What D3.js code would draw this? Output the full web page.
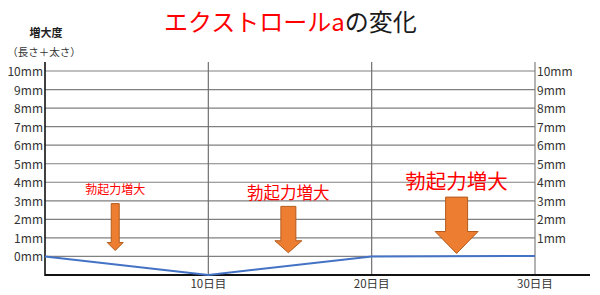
<!DOCTYPE html>
<html lang="ja">
<head>
  <meta charset="UTF-8">
  <title>エクストロールaの変化</title>
  <script src="https://d3js.org/d3.v7.min.js"></script>
  <style>
    body { margin: 0; background: #fff; }
    text { font-family: "Noto Sans CJK JP", "Noto Sans", sans-serif; }
  </style>
</head>
<body>
  <div class="canvas"></div>
  <script>
    // データ
    const days = [0, 10, 20, 30];
    const growth = [0, -1, 0, 0.03];          // 増大度 (mm)
    const mmTicks = [0, 1, 2, 3, 4, 5, 6, 7, 8, 9, 10];
    const rightTicks = [1, 2, 3, 4, 5, 6, 7, 8, 9, 10];
    const dayTicks = [10, 20, 30];
    const noteDays = [4.3, 14.9, 25.2];
    const noteLabel = '勃起力増大';

    // 矢印の見た目 (px / mm)
    const arrowStyle = [
      { font: 12, labelY: 190, top: 2.85, tip: 0.32, shaft: 8, head: 16, headLen: 8 },
      { font: 16.5, labelY: 193, top: 2.7, tip: 0.2, shaft: 15, head: 27, headLen: 12 },
      { font: 20.5, labelY: 182, top: 3.2, tip: 0.16, shaft: 22, head: 43, headLen: 22 }
    ];

    const svg = d3.select('.canvas')
      .append('svg')
      .attr('width', 600)
      .attr('height', 295);

    const x = d3.scaleLinear().domain([0, 30]).range([45, 535]);
    const y = d3.scaleLinear().domain([-1, 10]).range([275, 71]);
    const gridTop = 62;

    // タイトル
    const title = svg.append('text')
      .attr('x', 164)
      .attr('y', 31)
      .style('font-size', '24px');
    title.append('tspan').attr('fill', '#ff0000').text('エクストロールa');
    title.append('tspan').attr('fill', '#1a1a1a').text('の変化');

    svg.append('text')
      .attr('x', 46).attr('y', 37)
      .attr('text-anchor', 'middle')
      .style('font-size', '11px')
      .style('font-weight', 'bold')
      .attr('fill', '#222')
      .text('増大度');
    svg.append('text')
      .attr('x', 44).attr('y', 56)
      .attr('text-anchor', 'middle')
      .style('font-size', '10.5px')
      .attr('fill', '#333')
      .text('（長さ＋太さ）');

    // 横グリッド
    svg.append('g')
      .selectAll('line')
      .data(mmTicks)
      .enter()
      .append('line')
      .attr('x1', x(0)).attr('x2', x(30))
      .attr('y1', d => y(d)).attr('y2', d => y(d))
      .attr('stroke', '#808080')
      .attr('stroke-width', 1.2);

    // 縦グリッド
    svg.append('g')
      .selectAll('line')
      .data(dayTicks)
      .enter()
      .append('line')
      .attr('x1', d => x(d)).attr('x2', d => x(d))
      .attr('y1', gridTop).attr('y2', y(-1))
      .attr('stroke', d => d === 30 ? '#808080' : '#707070')
      .attr('stroke-width', 1.2);

    // 左軸・下軸
    svg.append('line')
      .attr('x1', x(0)).attr('x2', x(0))
      .attr('y1', gridTop).attr('y2', y(-1) + 1)
      .attr('stroke', '#111').attr('stroke-width', 1.6);
    svg.append('line')
      .attr('x1', x(0)).attr('x2', 590)
      .attr('y1', y(-1)).attr('y2', y(-1))
      .attr('stroke', '#111').attr('stroke-width', 1.8);

    // 目盛りラベル
    svg.append('g')
      .selectAll('text')
      .data(mmTicks)
      .enter()
      .append('text')
      .attr('x', x(0) - 2)
      .attr('y', d => y(d) + 5)
      .attr('text-anchor', 'end')
      .style('font-size', '12px')
      .attr('fill', '#333')
      .text(d => d + 'mm');

    svg.append('g')
      .selectAll('text')
      .data(rightTicks)
      .enter()
      .append('text')
      .attr('x', x(30) + 2)
      .attr('y', d => y(d) + 5)
      .style('font-size', '12px')
      .attr('fill', '#333')
      .text(d => d + 'mm');

    svg.append('g')
      .selectAll('text')
      .data(dayTicks)
      .enter()
      .append('text')
      .attr('x', d => x(d))
      .attr('y', 288)
      .attr('text-anchor', 'middle')
      .style('font-size', '11.5px')
      .attr('fill', '#333')
      .text(d => d + '日目');

    // 折れ線
    const line = d3.line()
      .x((d, i) => x(days[i]))
      .y(d => y(d));
    svg.append('path')
      .datum(growth)
      .attr('d', line)
      .attr('fill', 'none')
      .attr('stroke', '#4472c4')
      .attr('stroke-width', 2);

    // 矢印
    const notes = svg.append('g')
      .selectAll('g')
      .data(noteDays)
      .enter()
      .append('g');

    notes.append('path')
      .attr('d', (d, i) => {
        const s = arrowStyle[i];
        const cx = x(d);
        const t = y(s.top);
        const tip = y(s.tip);
        const hy = tip - s.headLen;
        return d3.line()([
          [cx - s.shaft / 2, t], [cx + s.shaft / 2, t],
          [cx + s.shaft / 2, hy], [cx + s.head / 2, hy],
          [cx, tip],
          [cx - s.head / 2, hy], [cx - s.shaft / 2, hy]
        ]) + 'Z';
      })
      .attr('fill', '#ed7d31')
      .attr('stroke', '#b35c1e')
      .attr('stroke-width', 1);

    notes.append('text')
      .attr('x', d => x(d))
      .attr('y', (d, i) => arrowStyle[i].labelY + arrowStyle[i].font * 0.36)
      .attr('text-anchor', 'middle')
      .style('font-size', (d, i) => arrowStyle[i].font + 'px')
      .attr('fill', '#ff0000')
      .text(noteLabel);
  </script>
</body>
</html>
